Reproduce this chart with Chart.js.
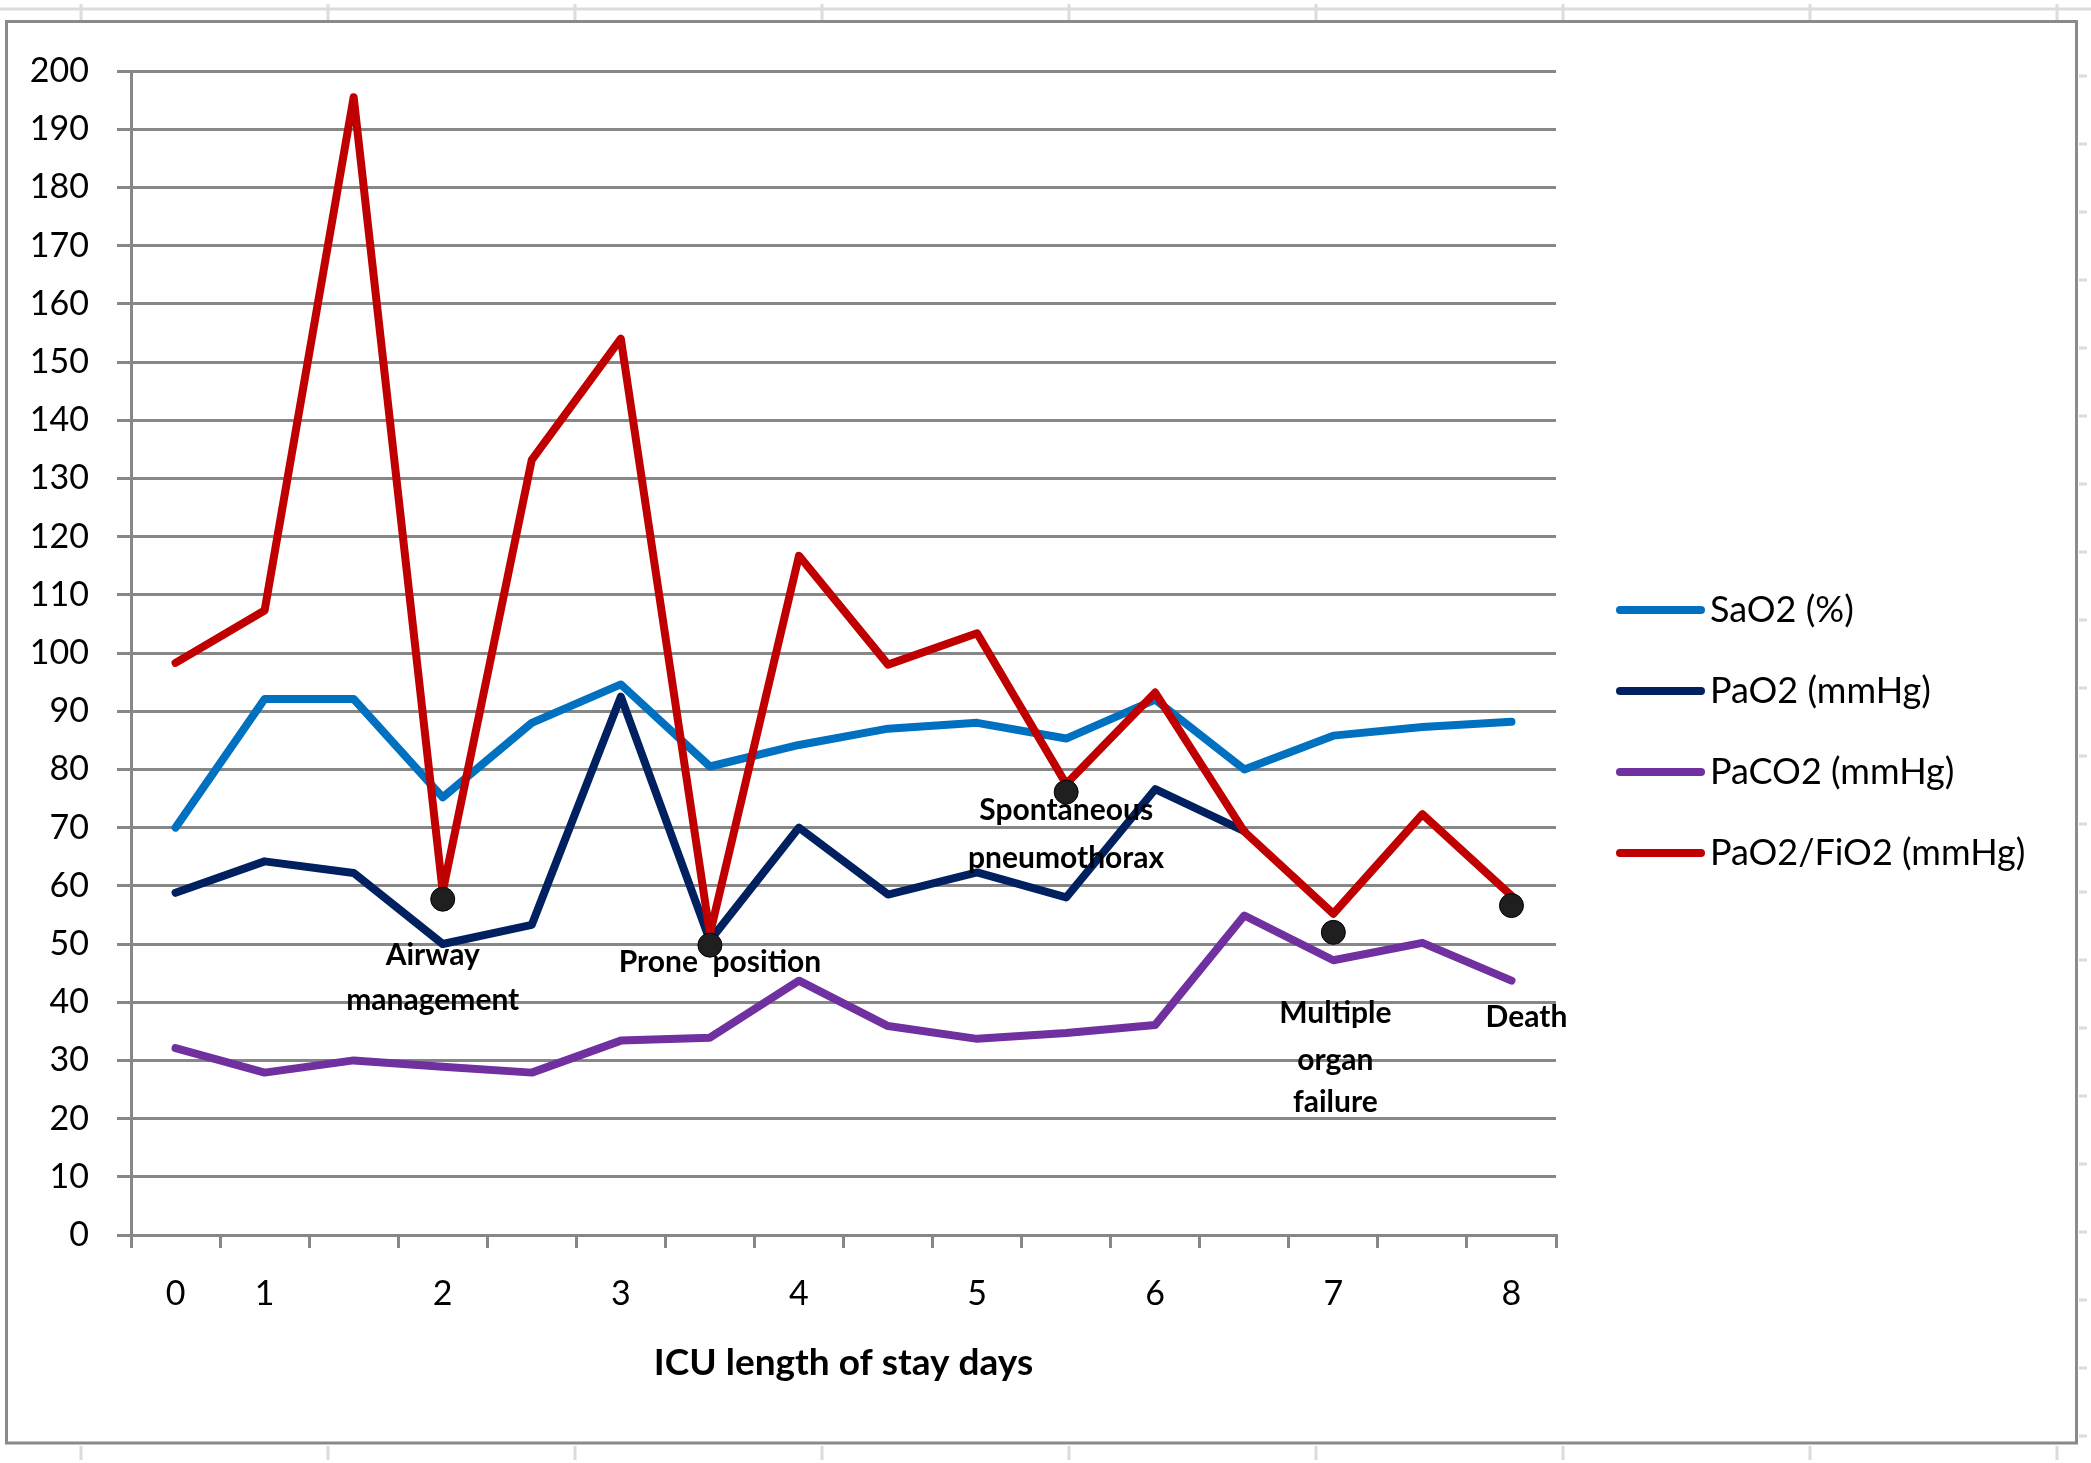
<!DOCTYPE html>
<html>
<head>
<meta charset="utf-8">
<script src="https://cdn.jsdelivr.net/npm/chart.js@4.4.1/dist/chart.umd.min.js"></script>
<style>
  html, body { margin: 0; padding: 0; background: #ffffff; }
  #wrap { width: 2091px; height: 1463px; }
</style>
</head>
<body>
<div id="wrap"><canvas id="c" width="2091" height="1463"></canvas></div>
<script>
// ---- data ----
const xLabels = ["0", "1", "", "2", "", "3", "", "4", "", "5", "", "6", "", "7", "", "8"];
const yTicks = [0, 10, 20, 30, 40, 50, 60, 70, 80, 90, 100, 110, 120, 130, 140, 150, 160, 170, 180, 190, 200];
const seriesNames = ["SaO2 (%)", "PaO2 (mmHg)", "PaCO2 (mmHg)", "PaO2/FiO2 (mmHg)"];
const sao2 = [70, 92.1, 92.1, 75.2, 88, 94.6, 80.5, 84.2, 87, 88, 85.3, 92, 80, 85.8, 87.3, 88.2];
const pao2 = [58.8, 64.2, 62.2, 50, 53.3, 92.5, 50.6, 70, 58.5, 62.3, 58, 76.6, 69.4, null, null, null];
const paco2 = [32.1, 27.9, 30, 28.9, 27.9, 33.4, 33.9, 43.7, 35.9, 33.7, 34.7, 36.1, 54.9, 47.2, 50.2, 43.7];
const pfRatio = [98.3, 107.3, 195.5, 59, 133.2, 154, 51.7, 116.7, 98, 103.4, 77.5, 93.2, 69.3, 55.2, 72.3, 58.3];
const eventValues = [null, null, null, 57.7, null, null, 49.8, null, null, null, 76.1, null, null, 52, null, 56.6];
const eventLabels = [null, null, null, ["Airway", "management"], null, null, ["Prone  position"], null, null, null, ["Spontaneous", "pneumothorax"], null, null, ["Multiple", "organ", "failure"], null, ["Death"]];
const xTitle = "ICU length of stay days";

// ---- styles ----
const colors = ["#0070C0", "#002060", "#7030A0", "#C00000"];
const GRID = "#878787";
const FONT = "Lato, 'Liberation Sans', sans-serif";

const seriesValues = [sao2, pao2, paco2, pfRatio];
const datasets = seriesValues.map((vals, i) => ({
  label: seriesNames[i],
  data: vals,
  borderColor: colors[i],
  backgroundColor: colors[i],
  borderWidth: 8,
  borderJoinStyle: "round",
  borderCapStyle: "round",
  pointRadius: 0,
  pointHoverRadius: 0,
  tension: 0,
  spanGaps: false,
  order: 3 - i
}));
datasets.push({
  label: "events",
  data: eventValues,
  showLine: false,
  pointRadius: 12,
  pointHoverRadius: 12,
  pointBackgroundColor: "#1f1f1f",
  pointBorderColor: "#000000",
  pointBorderWidth: 1,
  order: -1
});

const framePlugin = {
  id: "frame",
  beforeDraw(chart) {
    const c = chart.ctx;
    c.save();
    c.fillStyle = "#ffffff";
    c.fillRect(0, 0, chart.width, chart.height);
    // faint sheet lines
    c.strokeStyle = "#dcdcdc";
    c.lineWidth = 3;
    c.beginPath();
    c.moveTo(0, 9); c.lineTo(2091, 9);
    for (let x = 81; x < 2091; x += 247) {
      c.moveTo(x, 4); c.lineTo(x, 20);
      c.moveTo(x, 1446); c.lineTo(x, 1460);
    }
    for (let y = 76; y < 1450; y += 68) {
      c.moveTo(2079, y); c.lineTo(2087, y);
    }
    c.stroke();
    // chart frame
    c.strokeStyle = "#8a8a8a";
    c.lineWidth = 3;
    c.strokeRect(6.5, 21.5, 2070, 1421.5);
    c.restore();
  },
  afterDatasetsDraw(chart) {
    const c = chart.ctx;
    const meta = chart.getDatasetMeta(4);
    const offsets = {
      3: { dx: -10, dy: [56, 101] },
      6: { dx: 10, dy: [17] },
      10: { dx: 0, dy: [18, 66] },
      13: { dx: 2, dy: [81, 128, 170] },
      15: { dx: 15, dy: [112] }
    };
    c.save();
    c.font = "bold 30px " + FONT;
    c.fillStyle = "#000000";
    c.textAlign = "center";
    c.textBaseline = "middle";
    eventLabels.forEach((lines, i) => {
      if (!lines) return;
      const pt = meta.data[i];
      const o = offsets[i];
      lines.forEach((t, k) => c.fillText(t, pt.x + o.dx, pt.y + o.dy[k]));
    });
    c.restore();
  },
  afterDraw(chart) {
    const c = chart.ctx;
    c.save();
    c.font = "36px " + FONT;
    c.textBaseline = "middle";
    c.textAlign = "left";
    seriesNames.forEach((name, i) => {
      const y = 610 + i * 81;
      c.strokeStyle = colors[i];
      c.lineWidth = 8;
      c.lineCap = "round";
      c.beginPath();
      c.moveTo(1620, y); c.lineTo(1701, y);
      c.stroke();
      c.fillStyle = "#000000";
      c.fillText(name, 1710, y);
    });
    c.restore();
  }
};

new Chart(document.getElementById("c"), {
  type: "line",
  data: { labels: xLabels, datasets },
  options: {
    responsive: false,
    animation: false,
    devicePixelRatio: 1,
    layout: { padding: { left: 0, top: 71, right: 535, bottom: 0 } },
    plugins: { legend: { display: false }, tooltip: { enabled: false } },
    scales: {
      x: {
        type: "category",
        offset: true,
        grid: { offset: true, drawOnChartArea: false, drawTicks: true, tickLength: 13, color: GRID, lineWidth: 3 },
        border: { display: true, color: GRID, width: 3 },
        ticks: { autoSkip: false, maxRotation: 0, minRotation: 0, padding: 26, color: "#000000", font: { family: FONT, size: 34 } },
        title: { display: true, text: xTitle, color: "#000000", font: { family: FONT, size: 37, weight: "bold" }, padding: { top: 0, bottom: 78 } },
        afterFit(s) { s.height = 228; }
      },
      y: {
        min: 0,
        max: 200,
        afterBuildTicks(s) { s.ticks = yTicks.map(v => ({ value: v })); },
        grid: { color: GRID, lineWidth: 3, drawTicks: true, tickLength: 14 },
        border: { display: true, color: GRID, width: 3 },
        ticks: { padding: 28, color: "#000000", font: { family: FONT, size: 34 } },
        afterFit(s) { s.width = 131; }
      }
    }
  },
  plugins: [framePlugin]
});
</script>
</body>
</html>
